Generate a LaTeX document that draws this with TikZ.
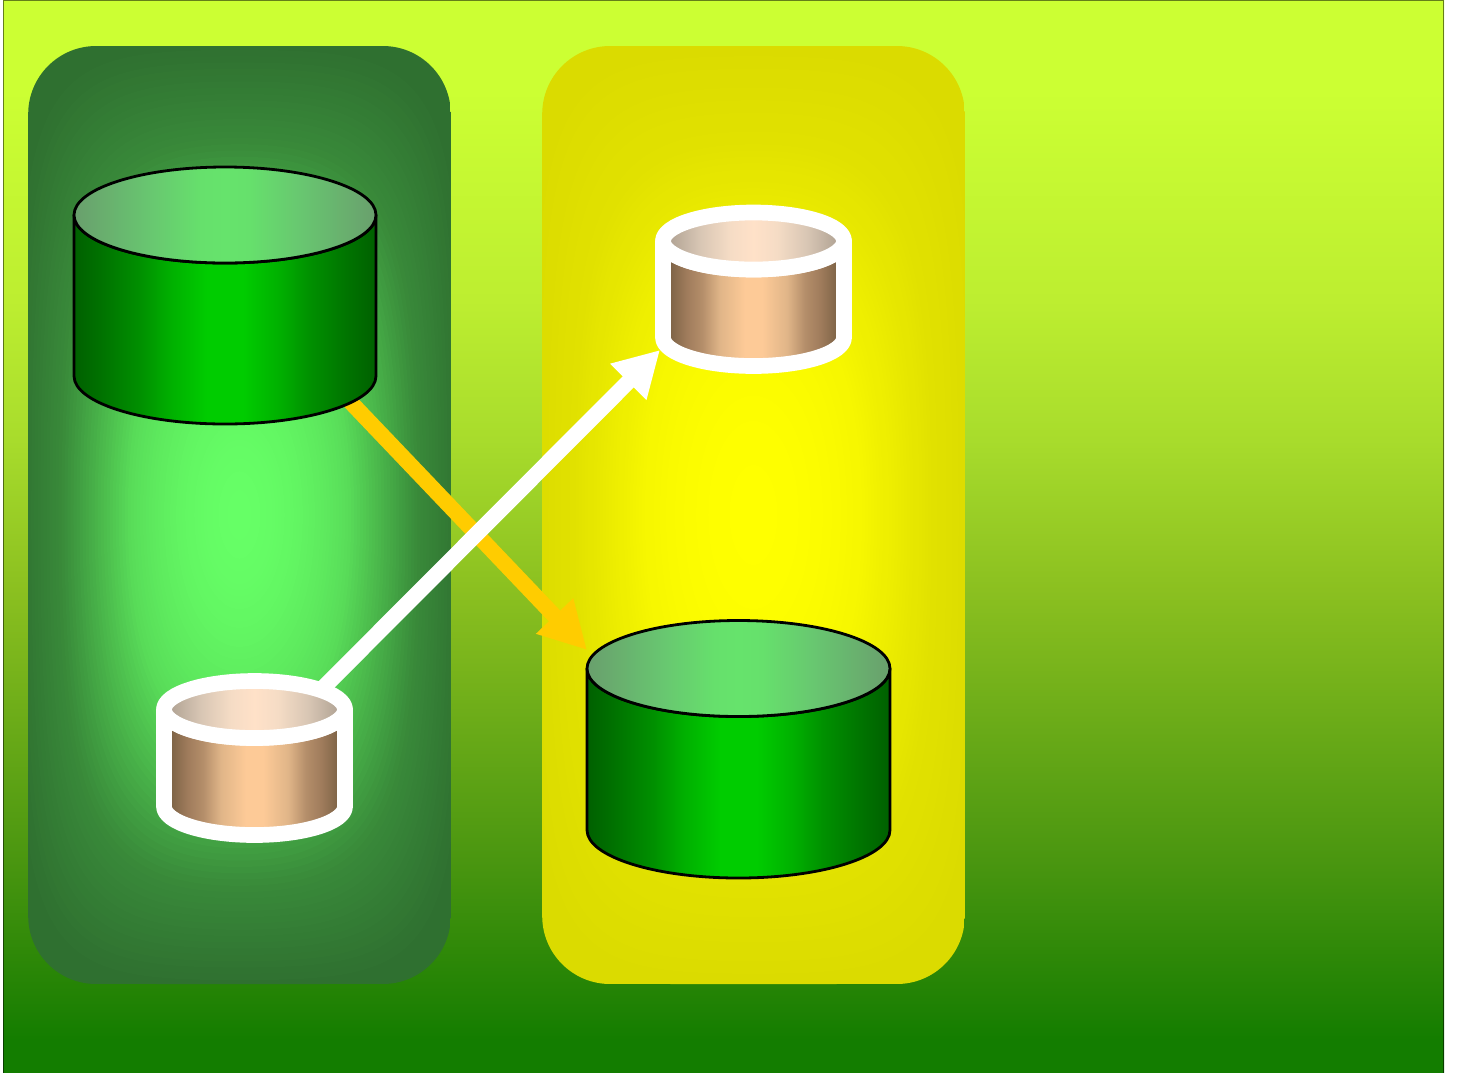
\documentclass[tikz,border=0pt]{standalone}
\usetikzlibrary{arrows.meta}
\definecolor{bgA}{HTML}{CCFF33}
\definecolor{bgB}{HTML}{BDEE30}
\definecolor{bgC}{HTML}{A8DC2C}
\definecolor{bgD}{HTML}{8BC020}
\definecolor{bgE}{HTML}{4A9610}
\definecolor{bgF}{HTML}{218204}
\definecolor{bgG}{HTML}{137D00}
\definecolor{glowG}{HTML}{66FF66}
\definecolor{edgeG}{HTML}{2F7030}
\definecolor{glowY}{HTML}{FFFF00}
\definecolor{edgeY}{HTML}{DBDB00}
\definecolor{sgA}{HTML}{006000}
\definecolor{sgB}{HTML}{007000}
\definecolor{sgC}{HTML}{009000}
\definecolor{sgD}{HTML}{00B000}
\definecolor{sgE}{HTML}{00CC00}
\definecolor{cgA}{HTML}{699F6D}
\definecolor{cgC}{HTML}{68C870}
\definecolor{cgD}{HTML}{66E06C}
\definecolor{cgB}{HTML}{66E36C}
\definecolor{stA}{HTML}{806548}
\definecolor{stE}{HTML}{A07C5C}
\definecolor{stB}{HTML}{B48E6A}
\definecolor{stD}{HTML}{E0B588}
\definecolor{stC}{HTML}{FDCA97}
\definecolor{ctA}{HTML}{B3A596}
\definecolor{ctC}{HTML}{D8C6B4}
\definecolor{ctD}{HTML}{F5DCC5}
\definecolor{ctB}{HTML}{FFE1C8}
\definecolor{arrowO}{HTML}{FFCC00}
\pgfdeclareverticalshading{bgshade}{100bp}{color(0bp)=(bgG);color(25bp)=(bgG);color(26.5bp)=(bgG);color(28.4bp)=(bgF);color(34.9bp)=(bgE);color(47.5bp)=(bgD);color(54.5bp)=(bgC);color(61bp)=(bgB);color(70.8bp)=(bgA);color(100bp)=(bgA)}
\pgfdeclarehorizontalshading{sideG}{100bp}{color(0bp)=(sgA);color(25bp)=(sgA);color(29bp)=(sgB);color(36bp)=(sgC);color(41bp)=(sgD);color(47bp)=(sgE);color(53bp)=(sgE);color(59bp)=(sgD);color(64bp)=(sgC);color(71bp)=(sgB);color(75bp)=(sgA);color(100bp)=(sgA)}
\pgfdeclarehorizontalshading{capG}{100bp}{color(0bp)=(cgA);color(25bp)=(cgA);color(38bp)=(cgC);color(46bp)=(cgD);color(50bp)=(cgB);color(54bp)=(cgD);color(62bp)=(cgC);color(75bp)=(cgA);color(100bp)=(cgA)}
\pgfdeclarehorizontalshading{sideT}{100bp}{color(0bp)=(stA);color(27.2bp)=(stA);color(31.6bp)=(stE);color(35.8bp)=(stB);color(40.7bp)=(stD);color(47.6bp)=(stC);color(52.4bp)=(stC);color(59.3bp)=(stD);color(64.2bp)=(stB);color(68.4bp)=(stE);color(72.8bp)=(stA);color(100bp)=(stA)}
\pgfdeclarehorizontalshading{capT}{100bp}{color(0bp)=(ctA);color(27.2bp)=(ctA);color(35.2bp)=(ctC);color(43.5bp)=(ctD);color(50bp)=(ctB);color(56.5bp)=(ctD);color(64.8bp)=(ctC);color(72.8bp)=(ctA);color(100bp)=(ctA)}
\tikzset{
  bigrim/.style={draw=black,line width=2.8pt,line join=round},
  smallrim/.style={draw=white,line width=15.7pt,line join=round},
  orangeconn/.style={draw=arrowO,line width=15.7pt,-{Triangle[length=47pt,width=48pt,fill=arrowO]}},
  whiteconn/.style={draw=white,line width=15.7pt,-{Triangle[length=45pt,width=48pt,fill=white]}},
}
% #1 cx, #2 cy, #3 half width, #4 half height, #5 glow, #6 edge, #7 contour half height
\newcommand{\glowpanel}[7]{%
  \begin{scope}
    \clip (#1-#3+68,#2-#4) -- (#1+#3-68,#2-#4)
      .. controls (#1+#3-30.44,#2-#4) and (#1+#3,#2-#4+30.44) .. (#1+#3,#2-#4+68)
      -- (#1+#3,#2+#4-68)
      .. controls (#1+#3,#2+#4-30.44) and (#1+#3-30.44,#2+#4) .. (#1+#3-68,#2+#4)
      -- (#1-#3+68,#2+#4)
      .. controls (#1-#3+30.44,#2+#4) and (#1-#3,#2+#4-30.44) .. (#1-#3,#2+#4-68)
      -- (#1-#3,#2-#4+68)
      .. controls (#1-#3,#2-#4+30.44) and (#1-#3+30.44,#2-#4) .. (#1-#3+68,#2-#4) -- cycle;
    \fill[#6] (#1-#3,#2-#4) rectangle (#1+#3,#2+#4);
    \foreach \i in {75,74,...,1}{%
      \pgfmathsetmacro{\tt}{\i/70}%
      \pgfmathsetmacro{\fd}{\tt<0.52 ? 0.24*(\tt/0.52)*(\tt/0.52) : (\tt<0.85 ? 0.24+(\tt-0.52)*1.758 : (\tt<1.07 ? 0.82+(\tt-0.85)*0.818 : 1))}%
      \pgfmathsetmacro{\pc}{100*(1-\fd)}%
      \pgfmathsetmacro{\kp}{0.55+0.36*\tt*\tt}%
      \pgfmathsetmacro{\ax}{#3*\tt}%
      \pgfmathsetmacro{\ay}{#7*\tt}%
      \pgfmathsetmacro{\kx}{\kp*\ax}%
      \pgfmathsetmacro{\ky}{\kp*\ay}%
      \fill[color=#5!\pc!#6]
        (#1-\ax,#2) .. controls (#1-\ax,#2-\ky) and (#1-\kx,#2-\ay) .. (#1,#2-\ay)
        .. controls (#1+\kx,#2-\ay) and (#1+\ax,#2-\ky) .. (#1+\ax,#2)
        .. controls (#1+\ax,#2+\ky) and (#1+\kx,#2+\ay) .. (#1,#2+\ay)
        .. controls (#1-\kx,#2+\ay) and (#1-\ax,#2+\ky) .. (#1-\ax,#2) -- cycle;
    }
  \end{scope}
}
% #1 cx, #2 top ellipse y, #3 bottom ellipse y, #4 rx, #5 ry, #6 rim style, #7 side shade, #8 cap shade
\newcommand{\drum}[8]{%
  \path[shading=#7,#6] (#1-#4,#2) -- (#1-#4,#3)
    arc[start angle=180,end angle=0,x radius=#4,y radius=#5] -- (#1+#4,#2)
    arc[start angle=0,end angle=180,x radius=#4,y radius=#5] -- cycle;
  \path[shading=#8,#6] (#1,#2) ellipse[x radius=#4,y radius=#5];
}
\begin{document}
\begin{tikzpicture}[x=1pt,y=-1pt]
  \useasboundingbox (0,0) rectangle (1458,1072);
  \fill[white] (0,0) rectangle (1458,1072);
  \shade[shading=bgshade] (3,0) rectangle (1444,1072);
  \begin{scope}
    \clip (0,0) rectangle (1458,1072);
    \draw[black,opacity=0.5,line width=1pt] (3,0.5) rectangle (1443.7,1076);
  \end{scope}

  \glowpanel{239.5}{515}{211.3}{469}{glowG}{edgeG}{440}
  \glowpanel{753.5}{515}{211.3}{469}{glowY}{edgeY}{440}

  \coordinate (bigAout) at (340,391);
  \coordinate (bigBin) at (587,650);
  \coordinate (smallAout) at (322,689);
  \coordinate (smallBin) at (660,350);

  \draw[orangeconn] (bigAout) -- (bigBin);
  \draw[whiteconn] (smallAout) -- (smallBin);

  \drum{225}{215}{376}{151}{48}{bigrim}{sideG}{capG}
  \drum{738.5}{668.5}{830}{151.5}{48}{bigrim}{sideG}{capG}
  \drum{254.5}{709.5}{806.5}{90.5}{28.5}{smallrim}{sideT}{capT}
  \drum{753.5}{241}{337.5}{90.5}{28.5}{smallrim}{sideT}{capT}
\end{tikzpicture}
\end{document}
